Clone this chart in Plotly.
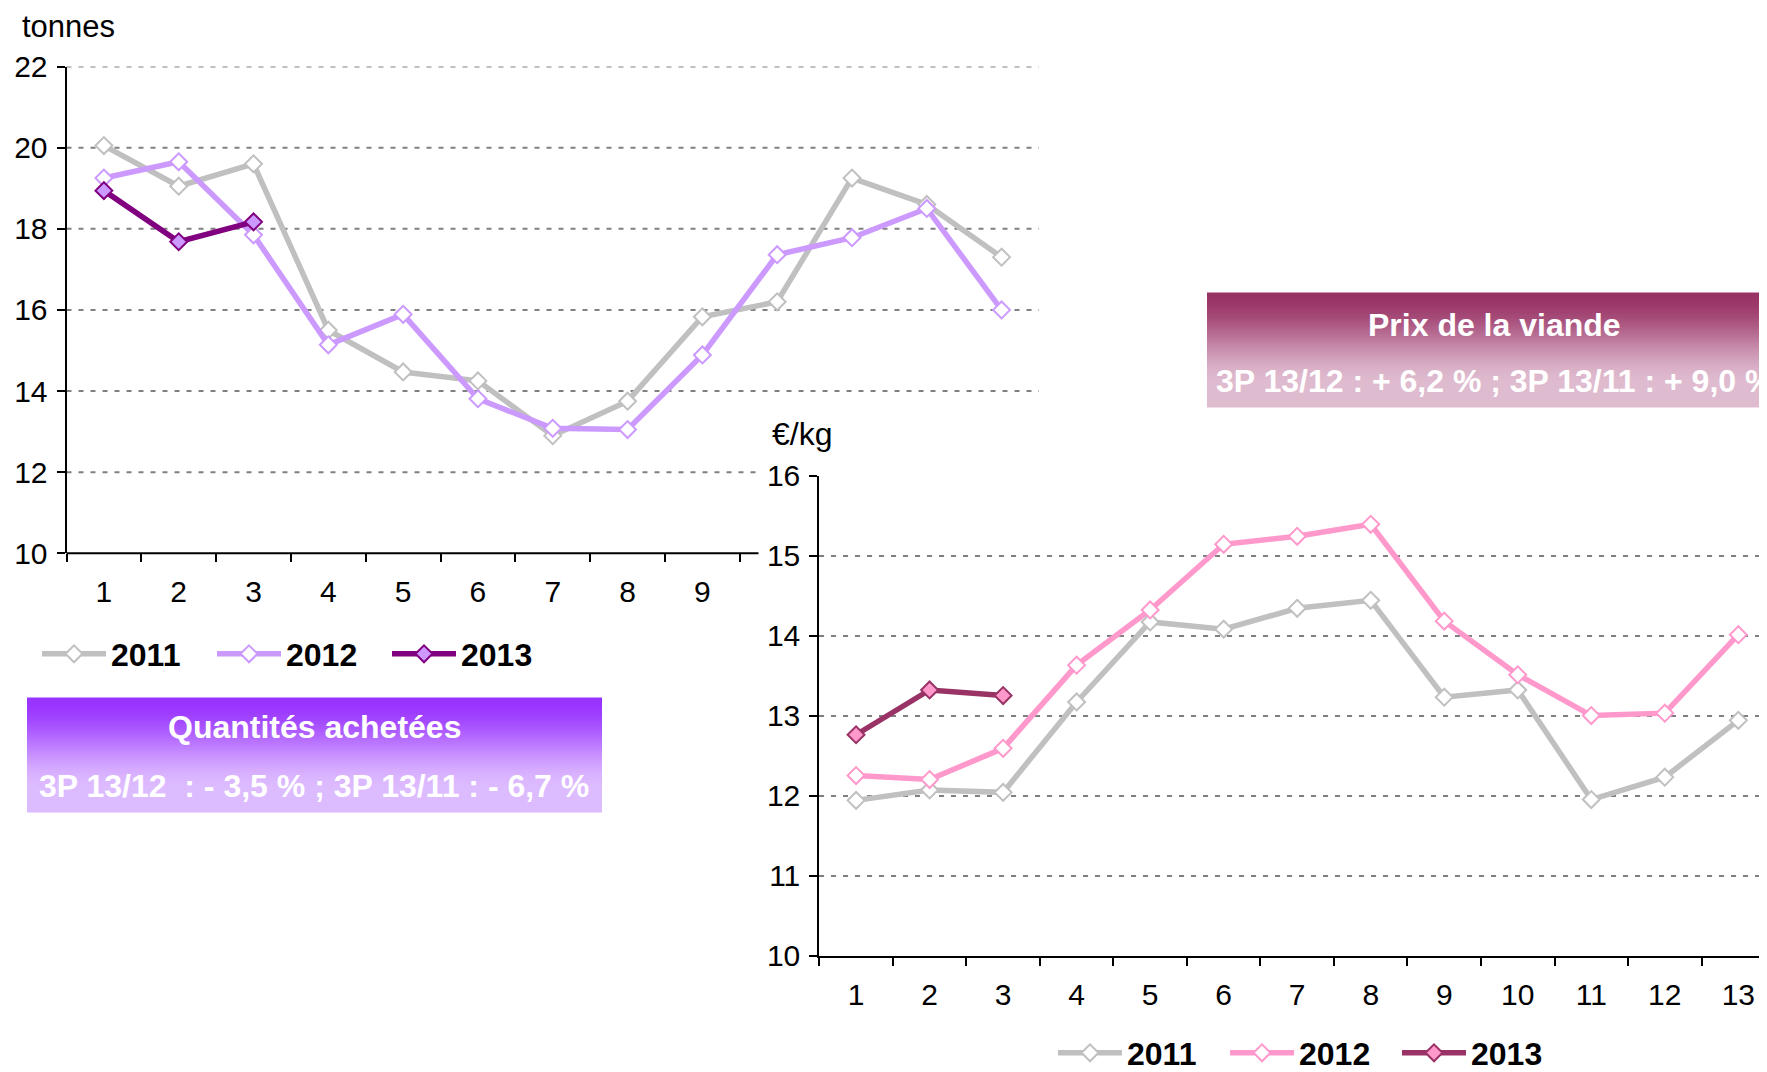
import plotly.graph_objects as go

# ---------------- data ----------------
periods = list(range(1, 14))
period_labels = [str(p) for p in periods]

qty_2011 = [20.05, 19.05, 19.6, 15.5, 14.47, 14.25, 12.9, 13.75, 15.83, 16.2, 19.25, 18.6, 17.3]
qty_2012 = [19.25, 19.65, 17.85, 15.14, 15.89, 13.81, 13.08, 13.05, 14.89, 17.36, 17.78, 18.5, 16.0]
qty_2013 = [18.94, 17.68, 18.17]

price_2011 = [11.94, 12.07, 12.04, 13.17, 14.17, 14.08, 14.34, 14.44, 13.23, 13.32, 11.95, 12.23, 12.94]
price_2012 = [12.25, 12.2, 12.59, 13.63, 14.32, 15.14, 15.24, 15.39, 14.18, 13.51, 13.0, 13.03, 14.01]
price_2013 = [12.76, 13.32, 13.25]

years = ["2011", "2012", "2013"]
qty_tick_labels = ["1", "2", "3", "4", "5", "6", "7", "8", "9"]
qty_grid_values = [12, 14, 16, 18, 20, 22]

# the page body has an 8px margin: the figure is drawn 8px right / down
OFF = 8
W, H = 1767 - OFF, 1072 - OFF
FONT = "Liberation Sans, Arial, sans-serif"

def px_x(v):
    """page pixel x -> paper fraction"""
    return (v - OFF) / W

def px_y(v):
    """page pixel y -> paper fraction"""
    return 1 - (v - OFF) / H

# domains (pixel based layout)
top_x = [px_x(66.5), px_x(1039)]
top_y = [px_y(553.3), px_y(66.5)]
bot_x = [px_x(819.3), 1.0]
bot_y = [px_y(955.6), px_y(475.5)]

GRAY = "#C0C0C0"
LAV = "#CC99FF"
PURPLE = "#800080"
PINK = "#FF99CC"
WINE = "#993366"
GRID = "#808080"
DASH = "5px,7px"

fig = go.Figure()

def add_series(x, y, name, color, mfill, mline, xa, ya, leg):
    fig.add_trace(go.Scatter(
        x=x, y=y, name=name, mode="lines+markers",
        line=dict(color=color, width=5.5),
        marker=dict(symbol="diamond", size=13, color=mfill,
                    line=dict(color=mline, width=2)),
        xaxis=xa, yaxis=ya, legend=leg, cliponaxis=False,
    ))

add_series(periods, qty_2011, years[0], GRAY, "white", GRAY, "x", "y", "legend")
add_series(periods, qty_2012, years[1], LAV, "white", LAV, "x", "y", "legend")
add_series(periods[:len(qty_2013)], qty_2013, years[2], PURPLE, LAV, PURPLE, "x", "y", "legend")

add_series(periods, price_2011, years[0], GRAY, "white", GRAY, "x2", "y2", "legend2")
add_series(periods, price_2012, years[1], PINK, "white", PINK, "x2", "y2", "legend2")
add_series(periods[:len(price_2013)], price_2013, years[2], WINE, PINK, WINE, "x2", "y2", "legend2")

shapes = []
# top chart gridlines (part of the chart is covered by the lower chart)
cover_frac = (9.75 - 0.5) / 13
for g in qty_grid_values:
    shapes.append(dict(type="line", xref="x domain", yref="y", x0=0, x1=(cover_frac if g < 14 else 1),
                       y0=g, y1=g, line=dict(color=GRID, width=2, dash=DASH), layer="below"))
# top chart horizontal axis line, cut where the lower chart overlaps
shapes.append(dict(type="line", xref="paper", yref="paper",
                   x0=top_x[0], x1=top_x[0] + cover_frac * (top_x[1] - top_x[0]),
                   y0=top_y[0], y1=top_y[0], line=dict(color="black", width=2), layer="above"))

def hex_rgb(h):
    h = h.lstrip("#")
    return tuple(int(h[i:i + 2], 16) for i in (0, 2, 4))

def gradient_box(x0, x1, y0_px, y1_px, c_top, c_bot, n=70):
    a, b = hex_rgb(c_top), hex_rgb(c_bot)
    step = (y1_px - y0_px) / n
    for i in range(n):
        t = min(1.0, (i + 0.5) / n / 0.8)
        t = t * t * (3 - 2 * t)
        c = tuple(round(a[k] + (b[k] - a[k]) * t) for k in range(3))
        ya = y0_px + i * step
        yb = ya + step + 0.8
        shapes.append(dict(type="rect", xref="paper", yref="paper",
                           x0=x0, x1=x1, y0=px_y(min(yb, y1_px)), y1=px_y(ya),
                           fillcolor="rgb(%d,%d,%d)" % c, line=dict(width=0), layer="below"))

gradient_box(px_x(27), px_x(602), 697.5, 812.5, "#9933FF", "#DDBBFF")
gradient_box(px_x(1207), 1.0, 292.5, 407.5, "#993366", "#DFBBCF")

annotations = [
    dict(text="tonnes", x=px_x(68), y=1.0, xref="paper", yref="paper", showarrow=False,
         xanchor="center", yanchor="top", borderpad=0,
         font=dict(size=31, color="black", family=FONT)),
    dict(text="€/kg", x=px_x(802), y=px_y(434), xref="paper", yref="paper", showarrow=False,
         xanchor="center", yanchor="middle", font=dict(size=32, color="black", family=FONT)),
    dict(text="<b>Quantités achetées</b>", x=px_x(314), y=px_y(727), xref="paper", yref="paper",
         showarrow=False, xanchor="center", yanchor="middle", font=dict(size=32, color="white", family=FONT)),
    dict(text="<b>3P 13/12 \u00a0: - 3,5 % ; 3P 13/11 : - 6,7 %</b>", x=px_x(314), y=px_y(786),
         xref="paper", yref="paper", showarrow=False, xanchor="center", yanchor="middle",
         font=dict(size=32, color="white", family=FONT)),
    dict(text="<b>Prix de la viande</b>", x=px_x(1494), y=px_y(325), xref="paper", yref="paper",
         showarrow=False, xanchor="center", yanchor="middle", font=dict(size=32, color="white", family=FONT)),
    dict(text="<b>3P 13/12 : + 6,2 % ; 3P 13/11 : + 9,0 %</b>", x=px_x(1214), y=px_y(381),
         xref="paper", yref="paper", showarrow=False, xanchor="left", yanchor="middle",
         font=dict(size=32, color="white", family=FONT)),
]

tick_font = dict(size=30, color="black", family=FONT)
boundaries_top = [p - 0.5 for p in range(1, 11)]
boundaries_bot = [p - 0.5 for p in range(1, 15)]
legend_font = dict(size=32, color="black", family=FONT, weight="bold")

fig.update_layout(
    width=W, height=H,
    margin=dict(l=0, r=0, t=0, b=0, autoexpand=False),
    paper_bgcolor="white", plot_bgcolor="rgba(0,0,0,0)",
    font=dict(family=FONT, color="black"),
    shapes=shapes, annotations=annotations,
    xaxis=dict(domain=top_x, anchor="y", range=[0.5, 13.5], showgrid=False, zeroline=False,
               automargin=False,
               showline=False, tickmode="array", tickvals=periods[:9], ticktext=qty_tick_labels,
               ticks="", tickfont=tick_font, ticklabelstandoff=18,
               minor=dict(tickmode="array", tickvals=boundaries_top, ticks="outside", ticklen=8,
                          tickwidth=2, tickcolor="black", showgrid=False)),
    yaxis=dict(domain=top_y, anchor="x", range=[10, 22], tick0=10, dtick=2, showgrid=False,
               automargin=False,
               zeroline=False, showline=True, linecolor="black", linewidth=2, ticks="outside",
               ticklen=8, tickwidth=2, tickcolor="black", tickfont=tick_font, ticklabelstandoff=3),
    xaxis2=dict(domain=bot_x, anchor="y2", range=[0.5, 13.39], showgrid=False, zeroline=False,
                automargin=False,
                showline=True, linecolor="black", linewidth=2, tickmode="array", tickvals=periods,
                ticktext=period_labels, ticks="", tickfont=tick_font, ticklabelstandoff=11,
                minor=dict(tickmode="array", tickvals=boundaries_bot, ticks="outside", ticklen=8,
                           tickwidth=2, tickcolor="black", showgrid=False)),
    yaxis2=dict(domain=bot_y, anchor="x2", range=[10, 16], tick0=10, dtick=1, showgrid=True,
                automargin=False,
                gridcolor=GRID, gridwidth=2, griddash=DASH, zeroline=False,
                showline=True, linecolor="black", linewidth=2, ticks="outside", ticklen=8,
                tickwidth=2, tickcolor="black", tickfont=tick_font, ticklabelstandoff=3),
    legend=dict(orientation="h", xref="container", yref="container",
                x=px_x(37), y=px_y(654), xanchor="left", yanchor="middle",
                font=legend_font, bgcolor="rgba(0,0,0,0)", itemwidth=64, entrywidth=96,
                traceorder="normal"),
    legend2=dict(orientation="h", xref="container", yref="container",
                 x=px_x(1053), y=px_y(1053), xanchor="left", yanchor="middle",
                 font=legend_font, bgcolor="rgba(0,0,0,0)", itemwidth=64, entrywidth=93,
                 traceorder="normal"),
    showlegend=True,
)

fig.write_html("out.html")
